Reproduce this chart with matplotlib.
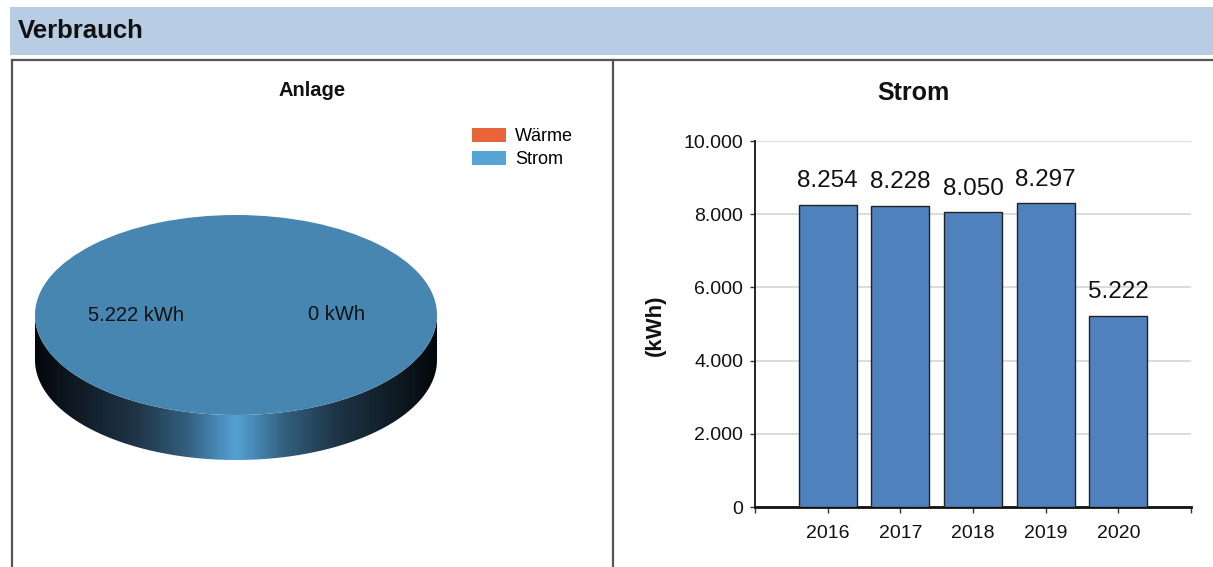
import numpy as np
import matplotlib
matplotlib.use("Agg")
import matplotlib.pyplot as plt
from matplotlib.patches import Rectangle, Polygon, Patch
from matplotlib.lines import Line2D
from matplotlib.colors import LinearSegmentedColormap

plt.rcParams['font.family'] = ['Liberation Sans', 'DejaVu Sans']

# Daten
pie_labels = ['Wärme', 'Strom']
pie_values = [0, 5222]
years = ['2016', '2017', '2018', '2019', '2020']
strom_kwh = [8254, 8228, 8050, 8297, 5222]
y_ticks = [0, 2000, 4000, 6000, 8000, 10000]


def de_fmt(v):
    return f"{v:,.0f}".replace(",", ".")


W, H = 1213, 567
fig = plt.figure(figsize=(W / 100, H / 100), dpi=100)
fig.patch.set_facecolor('white')


def fx(px):
    return px / W


def fy(py):
    return 1 - py / H


# Kopfzeile
fig.patches.append(Rectangle((fx(10), fy(55)), fx(1213) - fx(10), fy(7) - fy(55),
                             transform=fig.transFigure, facecolor='#b8cce4',
                             edgecolor='none', zorder=0))
fig.text(fx(18), fy(31), 'Verbrauch', fontsize=18.5, fontweight='bold',
         va='center', ha='left', color='#111111')

# Rahmenlinien
for xs, ys in [((12, 1213), (60, 60)), ((12, 12), (60, 567)), ((613, 613), (60, 567))]:
    fig.add_artist(Line2D([fx(xs[0]), fx(xs[1])], [fy(ys[0]), fy(ys[1])],
                          transform=fig.transFigure, color='#555555', lw=1.6))

# ---------- Tortendiagramm (3D-Optik) ----------
cx, cy, rx, ry, depth = 236, 315, 201, 100, 45
ax_pie = fig.add_axes([fx(cx - 1.1 * rx), fy(cy + 1.6 * ry), 2.2 * rx / W, 2.7 * ry / H])
top_color = '#4686b0'
wedges, _, autotexts = ax_pie.pie(
    pie_values, colors=['#e8643a', top_color], startangle=0, radius=1,
    autopct=lambda p: de_fmt(p * sum(pie_values) / 100) + ' kWh',
    pctdistance=0.5, textprops=dict(fontsize=14.5, color='#111111'))
ax_pie.set_aspect('auto')

# Seitenfläche mit Verlauf
d = depth / ry
t = np.linspace(np.pi, 2 * np.pi, 200)
side_pts = np.vstack([np.column_stack([np.cos(t), np.sin(t)]),
                      np.column_stack([np.cos(t[::-1]), np.sin(t[::-1]) - d])])
side = Polygon(side_pts, closed=True, facecolor='none', edgecolor='none',
               transform=ax_pie.transData)
ax_pie.add_patch(side)
side_cmap = LinearSegmentedColormap.from_list(
    'side', [(0.0, '#03080c'), (0.1, '#0f1a24'), (0.25, '#1f3547'),
             (0.38, '#33607f'), (0.46, '#4a8cba'), (0.5, '#55a2d4'),
             (0.54, '#4a8cba'), (0.62, '#33607f'), (0.75, '#1f3547'),
             (0.9, '#0f1a24'), (1.0, '#03080c')])
grad = np.linspace(0, 1, 400).reshape(1, -1)
im = ax_pie.imshow(grad, extent=(-1, 1, -1 - d, 0), aspect='auto', cmap=side_cmap,
                   zorder=0.5, interpolation='bilinear')
im.set_clip_path(side)
ax_pie.set_xlim(-1.1, 1.1)
ax_pie.set_ylim(-1.6, 1.1)
ax_pie.axis('off')

fig.text(fx(312), fy(90), 'Anlage', fontsize=14.5, fontweight='bold',
         ha='center', va='center', color='#111111')

legend_colors = ['#e8643a', '#56a3d6']
handles = [Patch(facecolor=c, edgecolor='none') for c in legend_colors]
fig.legend(handles, pie_labels, loc='upper left', bbox_to_anchor=(fx(472), fy(128)),
           frameon=False, fontsize=13, handlelength=1.9, handleheight=0.85,
           handletextpad=0.5, labelspacing=0.3, borderpad=0, borderaxespad=0)

# ---------- Balkendiagramm ----------
ax = fig.add_axes([fx(755), fy(507), (1191 - 755) / W, (507 - 141) / H])
x = np.arange(len(years))
bars = ax.bar(x, strom_kwh, width=0.8, color='#4f81bd', edgecolor='#222222',
              linewidth=1, zorder=3)
ax.bar_label(bars, labels=[de_fmt(v) for v in strom_kwh], padding=9,
             fontsize=17.5, color='#111111')
ax.set_xlim(-1, 5)
ax.set_ylim(0, 10000)
ax.set_yticks(y_ticks)
ax.set_yticklabels([de_fmt(v) for v in y_ticks], fontsize=14, color='#111111')
ax.set_xticks(np.arange(-1, 6))
ax.set_xticklabels([''] + years + [''], fontsize=14, color='#111111')
ax.tick_params(axis='y', length=3.5, width=1, pad=5, color='#333333')
ax.tick_params(axis='x', length=4, width=1, pad=9, color='#333333')
ax.grid(axis='y', color='#d9d9d9', lw=1.3, zorder=0)
ax.set_axisbelow(True)
for s in ['top', 'right']:
    ax.spines[s].set_visible(False)
ax.spines['left'].set_linewidth(1.3)
ax.spines['bottom'].set_linewidth(2)
ax.spines['left'].set_color('#111111')
ax.spines['bottom'].set_color('#111111')

fig.text(fx(913), fy(93), 'Strom', fontsize=18, fontweight='bold',
         ha='center', va='center', color='#111111')
fig.text(fx(655), fy(325), '(kWh)', fontsize=16, fontweight='bold', rotation=90,
         ha='center', va='center', color='#111111')

fig.savefig('out.png', dpi=100)
